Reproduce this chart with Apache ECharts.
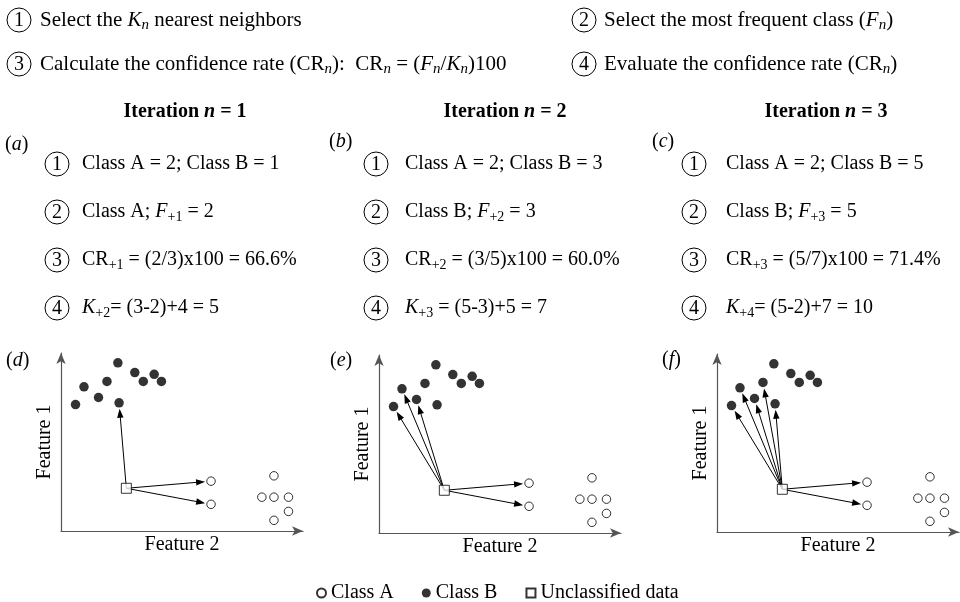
<!DOCTYPE html>
<html><head><meta charset="utf-8">
<script src="https://cdn.jsdelivr.net/npm/echarts@6/dist/echarts.min.js"></script>
<style>html,body{margin:0;padding:0;background:#fff}#c{width:960px;height:602px}</style>
</head><body><div id="c"></div>
<script>
// ---- data (axis units 0-100) ----
const classA = [[62,28],[62,15],[88,31],[83,19],[88,19],[94,19],[94,11],[88,6]];
const classB = [[6,71],[9.5,81],[15.5,75],[19,84],[23.5,94.5],[24,72],[30.5,89],[34,84],[38.5,88],[41.5,84]];
const unclassified = [[27,24]];
const neighborsB = [[5],[0,1,2],[0,1,2,3,5]];
const neighborsA = [[0,1],[0,1],[0,1]];
const panelLetters = ['d','e','f'];
const topLetters = ['a','b','c'];
const iterations = ['1','2','3'];
const overviewSteps = [
  'Select the {i|K}{si|n} nearest neighbors',
  'Select the most frequent class ({i|F}{si|n})',
  'Calculate the confidence rate (CR{si|n}):  CR{si|n} = ({i|F}{si|n}/{i|K}{si|n})100',
  'Evaluate the confidence rate (CR{si|n})'
];
const iterSteps = [
  ['Class A = 2; Class B = 1','Class A; {i|F}{s|+1} = 2','CR{s|+1} = (2/3)x100 = 66.6%','{i|K}{s|+2}= (3-2)+4 = 5'],
  ['Class A = 2; Class B = 3','Class B; {i|F}{s|+2} = 3','CR{s|+2} = (3/5)x100 = 60.0%','{i|K}{s|+3} = (5-3)+5 = 7'],
  ['Class A = 2; Class B = 5','Class B; {i|F}{s|+3} = 5','CR{s|+3} = (5/7)x100 = 71.4%','{i|K}{s|+4}= (5-2)+7 = 10']
];
const axisNames = ['Feature 2','Feature 1'];
const legendNames = ['Class A','Class B','Unclassified data'];

// ---- styling / layout ----
const FONT = '"Liberation Serif","Times New Roman",serif';
function makeRich(fs){
  const sub = Math.round(fs*0.7);
  return {
    i:{fontStyle:'italic', fontSize:fs, fontFamily:FONT, fill:'#000'},
    s:{fontSize:sub, verticalAlign:'bottom', fontFamily:FONT, fill:'#000'},
    si:{fontSize:sub, fontStyle:'italic', verticalAlign:'bottom', fontFamily:FONT, fill:'#000'},
    b:{fontWeight:'bold', fontSize:fs, fontFamily:FONT, fill:'#000'},
    bi:{fontWeight:'bold', fontStyle:'italic', fontSize:fs, fontFamily:FONT, fill:'#000'}
  };
}
function txt(x,y,text,align,fs){
  fs = fs||20;
  return {type:'text', x:x, y:y, z:10, style:{text:text, rich:makeRich(fs), fontSize:fs, fontFamily:FONT, fill:'#000', align:align||'left', verticalAlign:'middle', lineHeight:Math.round(fs*1.2)}};
}
function circ(cx,cy,num){
  return [
    {type:'circle', z:10, shape:{cx:cx, cy:cy, r:12}, style:{fill:'#fff', stroke:'#000', lineWidth:1}},
    {type:'text', z:11, x:cx, y:cy+1, style:{text:num, fontSize:20, fontFamily:FONT, fill:'#000', align:'center', verticalAlign:'middle'}}
  ];
}
const graphics = [];
// overview
const ovPos = [[19,20,40],[584,20,604],[19,64,40],[584,64,604]];
const ovNums = ['1','2','3','4'];
ovPos.forEach((p,k)=>{ graphics.push(...circ(p[0],p[1],ovNums[k])); graphics.push(txt(p[2],p[1],overviewSteps[k],'left',21)); });
// iterations
const headX = [185,505,826], circX = [57,376,694], textX = [82,405,726], rowY = [164,212,260,308];
const letterPos = [[5,145],[329,142],[652,142]];
for (let c=0;c<3;c++){
  graphics.push(txt(headX[c],112,'{b|Iteration }{bi|n}{b| = '+iterations[c]+'}','center'));
  graphics.push(txt(letterPos[c][0],letterPos[c][1],'({i|'+topLetters[c]+'})'));
  for (let r=0;r<4;r++){
    graphics.push(...circ(circX[c],rowY[r],ovNums[r]));
    graphics.push(txt(textX[c],rowY[r],iterSteps[c][r]));
  }
}
const panelLetterPos = [[6,361],[330,361],[662,360]];
panelLetterPos.forEach((p,k)=>graphics.push(txt(p[0],p[1],'({i|'+panelLetters[k]+'})')));

const gridPos = [[61,353],[379,355],[717,354]];
const grids = gridPos.map(p=>({left:p[0], top:p[1], width:242, height:178}));
const axisLine = {show:true, symbol:['none','arrow'], symbolSize:[7,11], lineStyle:{color:'#555', width:1.2}};
const xAxes = grids.map((g,k)=>({gridIndex:k, type:'value', min:0, max:100, axisLine:axisLine, axisTick:{show:false}, axisLabel:{show:false}, splitLine:{show:false},
  name:axisNames[0], nameLocation:'middle', nameGap:4, nameTextStyle:{fontSize:20, fontFamily:FONT, color:'#000', verticalAlign:'top'}}));
const yAxes = grids.map((g,k)=>({gridIndex:k, type:'value', min:0, max:100, axisLine:axisLine, axisTick:{show:false}, axisLabel:{show:false}, splitLine:{show:false},
  name:axisNames[1], nameLocation:'middle', nameGap:6, nameTextStyle:{fontSize:20, fontFamily:FONT, color:'#000'}}));

function arrowRender(params, api){
  const p0 = api.coord([api.value(0), api.value(1)]);
  const p1 = api.coord([api.value(2), api.value(3)]);
  const dx=p1[0]-p0[0], dy=p1[1]-p0[1], L=Math.hypot(dx,dy), ux=dx/L, uy=dy/L;
  const gap=6, hl=9, hw=3.2;
  const tip=[p1[0]-ux*gap, p1[1]-uy*gap];
  const base=[tip[0]-ux*hl, tip[1]-uy*hl];
  const px=-uy, py=ux;
  return {type:'group', children:[
    {type:'line', shape:{x1:p0[0], y1:p0[1], x2:base[0]+ux*2, y2:base[1]+uy*2}, style:{stroke:'#000', lineWidth:1}},
    {type:'polygon', shape:{points:[tip,[base[0]+px*hw, base[1]+py*hw],[base[0]-px*hw, base[1]-py*hw]]}, style:{fill:'#000'}}
  ]};
}

const series = [];
for (let k=0;k<3;k++){
  const u = unclassified[0];
  const arrows = neighborsB[k].map(i=>[u[0],u[1],classB[i][0],classB[i][1]])
    .concat(neighborsA[k].map(i=>[u[0],u[1],classA[i][0],classA[i][1]]));
  series.push({type:'custom', xAxisIndex:k, yAxisIndex:k, z:3, silent:true, data:arrows, encode:{x:[0,2], y:[1,3]}, renderItem:arrowRender});
  series.push({name:legendNames[0], type:'scatter', xAxisIndex:k, yAxisIndex:k, z:4, symbol:'circle', symbolSize:8.5, data:classA,
    itemStyle:{color:'#fff', borderColor:'#000', borderWidth:1}});
  series.push({name:legendNames[1], type:'scatter', xAxisIndex:k, yAxisIndex:k, z:4, symbol:'circle', symbolSize:9.5, data:classB,
    itemStyle:{color:'#000'}});
  series.push({name:legendNames[2], type:'scatter', xAxisIndex:k, yAxisIndex:k, z:5, symbol:'rect', symbolSize:10, data:unclassified,
    itemStyle:{color:'#fff', borderColor:'#000', borderWidth:1}});
}

const chart = echarts.init(document.getElementById('c'), null, {renderer:'canvas'});
chart.setOption({
  animation:false,
  backgroundColor:'#fff',
  grid:grids, xAxis:xAxes, yAxis:yAxes,
  legend:{data:legendNames, left:311, top:578, itemGap:28, itemWidth:9, itemHeight:9, selectedMode:false,
    textStyle:{fontSize:20, fontFamily:FONT, color:'#000'}},
  graphic:graphics,
  series:series
});
</script></body></html>
